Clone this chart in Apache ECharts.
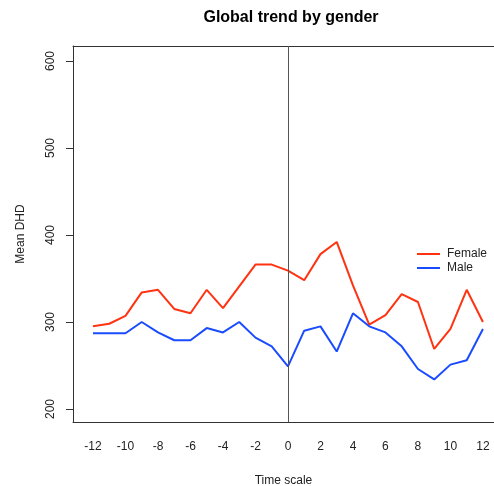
<!DOCTYPE html>
<html>
<head>
<meta charset="utf-8">
<script src="https://cdn.jsdelivr.net/npm/echarts@6/dist/echarts.min.js"></script>
<style>html,body{margin:0;padding:0;background:#fff}#c{width:494px;height:486px}</style>
</head>
<body>
<div id="c"></div>
<script>
const timeScale = [-12,-11,-10,-9,-8,-7,-6,-5,-4,-3,-2,-1,0,1,2,3,4,5,6,7,8,9,10,11,12];
const female = [295,298,307,334,337,315,310,337,316,341,366,366,359,348,378,392,342,297,308,332,323,269,292,337,300];
const male = [287,287,287,300,288,279,279,293,288,300,282,272,249,290,295,266,310,295,288,272,246,234,251,256,292];
const xTicks = [-12,-10,-8,-6,-4,-2,0,2,4,6,8,10,12];
const yTicks = [200,300,400,500,600];

const FONT = 'Liberation Sans, Arial, sans-serif';
const chart = echarts.init(document.getElementById('c'), null, {renderer:'canvas'});
const pair = a => timeScale.map((t,i)=>[t,a[i]]);
chart.setOption({
  animation:false,
  backgroundColor:'#fff',
  title:{text:'Global trend by gender',left:286,top:5,textAlign:'center',
    textStyle:{fontFamily:FONT,fontSize:16,fontWeight:'bold',color:'#000'}},
  legend:{orient:'vertical',left:412,top:243,itemWidth:23,itemHeight:2,itemGap:2,icon:'rect',
    textStyle:{fontFamily:FONT,fontSize:12,color:'#222',padding:[0,0,0,2]},
    data:['Female','Male']},
  grid:{left:73,right:0,top:46,bottom:64,containLabel:false,outerBoundsMode:'none'},
  xAxis:[{type:'value',min:-13.23,max:12.68,
    name:'Time scale',nameLocation:'middle',nameGap:53,
    nameTextStyle:{fontFamily:FONT,fontSize:12,color:'#222'},
    axisLine:{show:true,onZero:false,lineStyle:{color:'#333',width:1}},
    axisTick:{show:false},splitLine:{show:false},
    axisLabel:{customValues:xTicks,margin:19,fontFamily:FONT,fontSize:12,color:'#222'}},
   {type:'value',position:'top',min:-13.23,max:12.68,
    axisLine:{show:true,onZero:false,lineStyle:{color:'#333',width:1}},
    axisTick:{show:false},axisLabel:{show:false},splitLine:{show:false}}],
  yAxis:{type:'value',min:185.06,max:617.2,
    name:'Mean DHD',nameLocation:'middle',nameGap:46,
    nameTextStyle:{fontFamily:FONT,fontSize:12,color:'#222'},
    axisLine:{show:true,onZero:false,lineStyle:{color:'#333',width:1}},
    axisTick:{show:true,customValues:yTicks,length:7,lineStyle:{color:'#333'}},
    splitLine:{show:false},
    axisLabel:{customValues:yTicks,rotate:90,margin:16,fontFamily:FONT,fontSize:12,color:'#222'}},
  series:[
    {name:'Female',type:'line',data:pair(female),showSymbol:false,
      lineStyle:{color:'#ff3311',width:2},itemStyle:{color:'#ff3311'},
      markLine:{silent:true,symbol:'none',label:{show:false},
        lineStyle:{color:'#555',width:1,type:'solid'},data:[{xAxis:0}]}},
    {name:'Male',type:'line',data:pair(male),showSymbol:false,
      lineStyle:{color:'#1a4cff',width:2},itemStyle:{color:'#1a4cff'}}
  ]
});
</script>
</body>
</html>
